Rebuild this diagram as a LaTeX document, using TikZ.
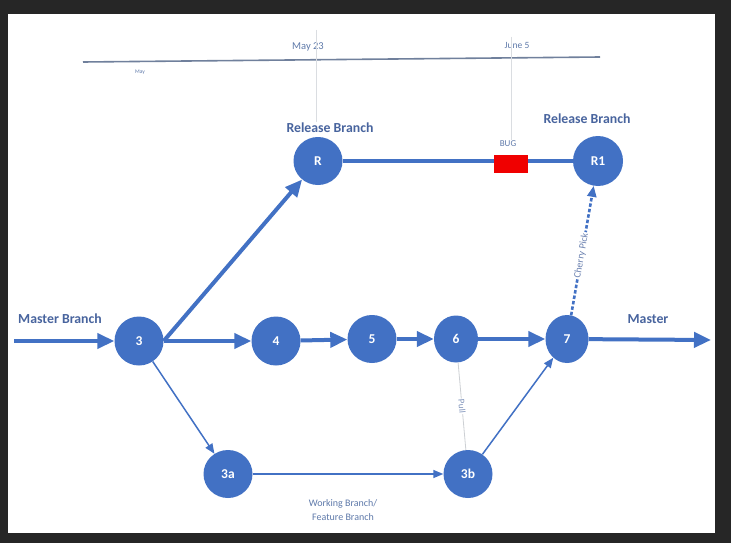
\documentclass[tikz,border=0pt]{standalone}
\usepackage{fontspec}
\setmainfont{Carlito}
\usetikzlibrary{arrows.meta,shapes.geometric}
\definecolor{framedark}{RGB}{38,38,38}
\definecolor{nodeblue}{RGB}{66,113,196}
\definecolor{labelblue}{RGB}{72,100,158}
\definecolor{lighttext}{RGB}{95,122,170}
\definecolor{timelinec}{RGB}{112,128,156}
\definecolor{vlinec}{RGB}{218,221,225}
\definecolor{pullc}{RGB}{205,208,212}
\definecolor{bugred}{RGB}{240,0,0}
\begin{document}
\begin{tikzpicture}[x=1pt,y=-1pt,
  commit/.style={ellipse, fill=nodeblue, text=white, inner sep=0pt,
    font=\bfseries\fontsize{13.5}{15}\selectfont, minimum width=49pt, minimum height=49pt},
  thickarrow/.style={draw=nodeblue, line width=4pt, -{Triangle[length=17pt,width=15pt]}},
  thinarrow/.style={draw=nodeblue, line width=1.5pt, -{Triangle[length=10pt,width=8pt]}},
  cherry/.style={draw=nodeblue, line width=2.6pt, dash pattern=on 3.5pt off 2pt,
    -{Triangle[length=11pt,width=9pt]}},
  pullline/.style={draw=pullc, line width=0.8pt},
  vline/.style={draw=vlinec, line width=0.8pt},
  timeline/.style={draw=timelinec, line width=1.6pt},
  boldlbl/.style={text=labelblue, font=\bfseries\fontsize{13.8}{15}\selectfont, inner sep=1pt},
  smalllbl/.style={text=lighttext, inner sep=1pt}
]
\useasboundingbox (0,0) rectangle (731,543);
\fill[framedark] (0,0) rectangle (731,543);
\fill[white] (8,14) rectangle (715,533);

% timeline
\coordinate (tl1) at (83,62);
\coordinate (tl2) at (600,57);
\draw[timeline] (tl1) -- (tl2);
\node[smalllbl, font=\fontsize{10.5}{12}\selectfont] (may23) at (308,47) {May 23};
\node[smalllbl, font=\fontsize{9.5}{11}\selectfont] (june5) at (517,45) {June 5};
\node[smalllbl, font=\fontsize{5.5}{7}\selectfont] (may) at (140,72) {May};

% labels
\node[boldlbl] (mbranch) at (60,319) {Master Branch};
\node[boldlbl] (master) at (648,319) {Master};
\node[boldlbl] (relA) at (330,128) {Release Branch};
\node[boldlbl] (relB) at (587,119) {Release Branch};
\node[smalllbl, font=\fontsize{9}{11}\selectfont] (buglbl) at (508,144) {BUG};
\node[smalllbl, align=center, font=\fontsize{10}{14}\selectfont] (work) at (343,510) {Working Branch/\\Feature Branch};

% commits
\node[commit] (n3) at (139,341) {3};
\node[commit] (n4) at (276,341) {4};
\node[commit, minimum height=48pt] (n5) at (372,339) {5};
\node[commit, minimum width=44pt, minimum height=47pt] (n6) at (456,339) {6};
\node[commit, minimum width=43pt, minimum height=48pt] (n7) at (567,339) {7};
\node[commit, minimum height=48pt] (R) at (318,161) {R};
\node[commit, minimum width=50pt, minimum height=50pt] (R1) at (598,161) {R1};
\node[commit, minimum height=48pt] (a) at (228,474) {3a};
\node[commit, minimum height=48pt] (b) at (468,474) {3b};

% vertical date lines
\coordinate (v1) at (316,30);
\coordinate (v2) at (511,37);
\draw[vline] (v1) -- (v1 |- relA.north);
\draw[vline] (v2) -- (v2 |- buglbl.north);

% master line
\coordinate (min) at (14,341);
\coordinate (mout) at (711,340);
\draw[thickarrow] (min) -- (n3);
\draw[thickarrow] (n3) -- (n4);
\draw[thickarrow] (n4) -- (n5);
\draw[thickarrow] (n5) -- (n6);
\draw[thickarrow] (n6) -- (n7);
\draw[thickarrow] (n7) -- (mout);

% release branch
\draw[thickarrow] (n3.east) -- (R);
\draw[draw=nodeblue, line width=4pt] (R) -- (R1);
\node[fill=bugred, minimum width=34pt, minimum height=18pt, inner sep=0pt] (bug) at (511,164) {};

% feature branch
\draw[thinarrow] (n3) -- (a);
\draw[thinarrow] (a) -- (b);
\draw[thinarrow] (b) -- (n7);

% pull
\draw[pullline] (n6) -- (b)
  node[pos=0.5, sloped, fill=white, text=labelblue!70, inner sep=1pt, font=\fontsize{9}{11}\selectfont] (pull) {Pull};

% cherry pick
\draw[cherry] (n7) -- (R1)
  node[pos=0.46, sloped, fill=white, text=labelblue!80, inner sep=1pt, font=\fontsize{10}{12}\selectfont] (cp) {Cherry Pick};
\end{tikzpicture}
\end{document}
